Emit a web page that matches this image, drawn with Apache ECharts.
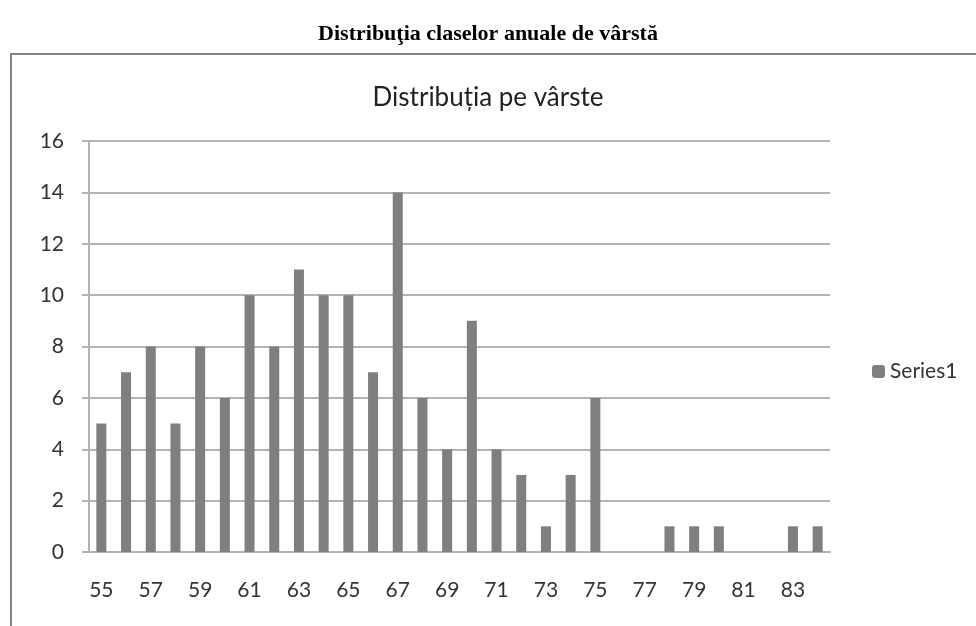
<!DOCTYPE html>
<html>
<head>
<meta charset="utf-8">
<script src="https://cdn.jsdelivr.net/npm/echarts@6/dist/echarts.min.js"></script>
<style>
  html, body { margin: 0; padding: 0; background: #fff; }
  #chart { width: 976px; height: 626px; }
</style>
</head>
<body>
<div id="chart"></div>
<script>
var ages = ['55', '56', '57', '58', '59', '60', '61', '62', '63', '64',
            '65', '66', '67', '68', '69', '70', '71', '72', '73', '74',
            '75', '76', '77', '78', '79', '80', '81', '82', '83', '84'];
var counts = [5, 7, 8, 5, 8, 6, 10, 8, 11, 10,
              10, 7, 14, 6, 4, 9, 4, 3, 1, 3,
              6, 0, 0, 1, 1, 1, 0, 0, 1, 1];
var yTicks = [0, 2, 4, 6, 8, 10, 12, 14, 16];

window.onload = function () {
    showChart();
};

function showChart() {
    var myChart = echarts.init(document.getElementById('chart'));

    var sans = 'Lato, "Open Sans", sans-serif';

    var option = {
        backgroundColor: '#fff',
        animation: false,
        title: [
            {
                text: 'Distribuţia claselor anuale de vârstă',
                left: 'center',
                top: 18,
                textStyle: {
                    fontFamily: '"Liberation Serif", serif',
                    fontWeight: 'bold',
                    fontSize: 22,
                    color: '#000'
                }
            },
            {
                text: 'Distribuția pe vârste',
                left: 'center',
                top: 80,
                textStyle: {
                    fontFamily: sans,
                    fontWeight: 'normal',
                    fontSize: 26,
                    color: '#222'
                }
            }
        ],
        // outer frame of the embedded chart (runs off right and bottom)
        graphic: [{
            type: 'rect',
            shape: { x: 11, y: 54, width: 1000, height: 620 },
            style: { fill: 'none', stroke: '#858585', lineWidth: 2 },
            silent: true,
            z: -1
        }],
        legend: {
            data: ['Series1'],
            orient: 'vertical',
            left: 872,
            top: 361,
            padding: 0,
            itemWidth: 13,
            itemHeight: 13,
            textStyle: {
                fontFamily: sans,
                fontSize: 21,
                color: '#333'
            }
        },
        grid: {
            left: 89,
            right: 146,
            top: 141,
            bottom: 74
        },
        xAxis: {
            type: 'category',
            data: ages,
            boundaryGap: true,
            axisTick: { show: false },
            axisLine: { lineStyle: { color: '#b3b3b3', width: 2 } },
            axisLabel: {
                interval: 1,
                margin: 28,
                fontFamily: sans,
                fontSize: 21,
                color: '#333'
            }
        },
        yAxis: {
            type: 'value',
            min: yTicks[0],
            max: yTicks[yTicks.length - 1],
            interval: 2,
            axisLine: { show: true, lineStyle: { color: '#b3b3b3', width: 2 } },
            axisTick: { show: true, length: 7, lineStyle: { color: '#b3b3b3', width: 2 } },
            splitLine: { lineStyle: { color: '#b3b3b3', width: 2 } },
            axisLabel: {
                margin: 25,
                fontFamily: sans,
                fontSize: 21,
                color: '#333'
            }
        },
        series: [{
            name: 'Series1',
            type: 'bar',
            barWidth: 10,
            itemStyle: { color: '#7f7f7f' },
            data: counts
        }]
    };

    myChart.setOption(option);
}
</script>
</body>
</html>
